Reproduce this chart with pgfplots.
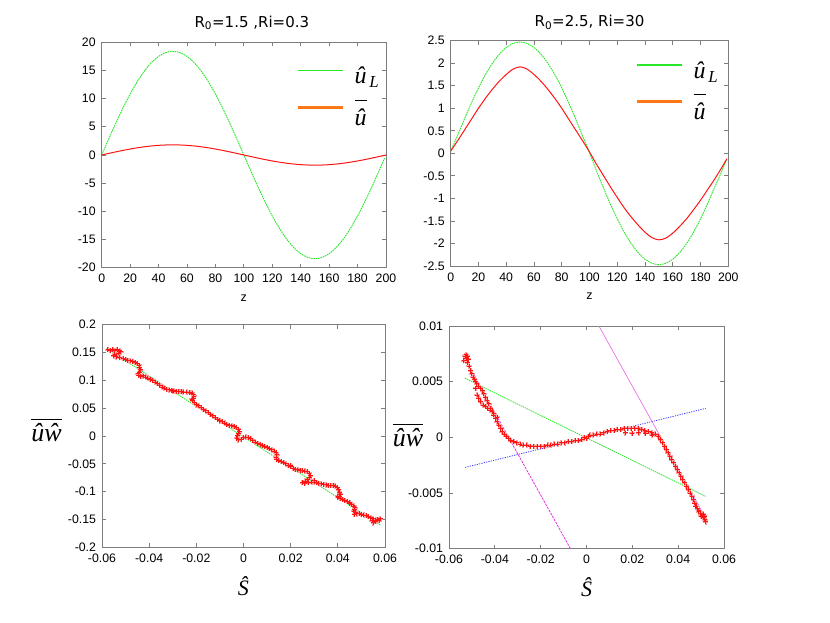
\documentclass[border=0pt]{standalone}
\usepackage{fix-cm}
\usepackage{fontspec}
\setmainfont{Liberation Sans}
\newfontfamily\titlefont{DejaVu Sans}
\newfontfamily\serif{Liberation Serif}
\usepackage{pgfplots}
\usepackage{pgfplotstable}
\pgfplotsset{compat=1.18}

\definecolor{gpgreen}{RGB}{40,230,40}
\definecolor{gpred}{RGB}{255,20,20}
\definecolor{gphalo}{RGB}{255,160,160}
\definecolor{gporange}{RGB}{255,120,20}
\definecolor{gpblue}{RGB}{60,60,255}
\definecolor{gpmag}{RGB}{235,110,235}
\definecolor{gpmagd}{RGB}{225,50,225}
\definecolor{framegray}{RGB}{125,125,125}

\pgfplotstableread{
x y
-0.0575 0.155
-0.0565 0.154
-0.0555 0.155
-0.0545 0.153
-0.0535 0.155
-0.0525 0.153
-0.0520 0.151
-0.0530 0.149
-0.0545 0.147
-0.0550 0.144
-0.0540 0.142
-0.0525 0.141
-0.0510 0.139
-0.0500 0.138
-0.0490 0.136
-0.0480 0.135
-0.0470 0.134
-0.0460 0.132
-0.0450 0.130
-0.0443 0.127
-0.0440 0.123
-0.0437 0.119
-0.0442 0.115
-0.0447 0.112
-0.0445 0.109
-0.0435 0.107
-0.0425 0.108
-0.0415 0.106
-0.0405 0.104
-0.0395 0.102
-0.0385 0.100
-0.0375 0.097
-0.0365 0.094
-0.0355 0.091
-0.0345 0.088
-0.0335 0.086
-0.0325 0.084
-0.0315 0.083
-0.0305 0.082
-0.0295 0.081
-0.0285 0.080
-0.0275 0.080
-0.0265 0.080
-0.0255 0.079
-0.0240 0.079
-0.0228 0.078
-0.0218 0.077
-0.0212 0.074
-0.0210 0.071
-0.0213 0.068
-0.0218 0.066
-0.0215 0.063
-0.0208 0.060
-0.0200 0.057
-0.0190 0.054
-0.0180 0.051
-0.0170 0.048
-0.0160 0.045
-0.0150 0.042
-0.0140 0.039
-0.0130 0.036
-0.0120 0.033
-0.0110 0.030
-0.0100 0.028
-0.0090 0.026
-0.0080 0.023
-0.0070 0.021
-0.0060 0.019
-0.0050 0.018
-0.0040 0.017
-0.0030 0.015
-0.0022 0.012
-0.0018 0.008
-0.0020 0.004
-0.0025 0.000
-0.0028 -0.004
-0.0022 -0.007
-0.0010 -0.006
0.0000 -0.003
0.0010 -0.002
0.0020 -0.003
0.0030 -0.005
0.0040 -0.008
0.0050 -0.011
0.0060 -0.013
0.0070 -0.015
0.0080 -0.017
0.0090 -0.019
0.0100 -0.021
0.0110 -0.023
0.0120 -0.025
0.0130 -0.027
0.0138 -0.030
0.0142 -0.034
0.0138 -0.038
0.0140 -0.042
0.0150 -0.044
0.0160 -0.046
0.0170 -0.048
0.0180 -0.050
0.0190 -0.053
0.0200 -0.055
0.0210 -0.058
0.0220 -0.060
0.0230 -0.061
0.0240 -0.062
0.0250 -0.062
0.0260 -0.063
0.0270 -0.064
0.0278 -0.067
0.0283 -0.071
0.0280 -0.075
0.0272 -0.078
0.0262 -0.081
0.0250 -0.084
0.0260 -0.085
0.0275 -0.084
0.0290 -0.083
0.0300 -0.083
0.0310 -0.084
0.0320 -0.085
0.0330 -0.086
0.0340 -0.087
0.0350 -0.088
0.0360 -0.089
0.0370 -0.089
0.0380 -0.089
0.0390 -0.090
0.0398 -0.093
0.0403 -0.097
0.0408 -0.101
0.0412 -0.105
0.0408 -0.108
0.0400 -0.110
0.0410 -0.112
0.0420 -0.114
0.0430 -0.116
0.0440 -0.118
0.0450 -0.120
0.0460 -0.123
0.0468 -0.126
0.0472 -0.129
0.0470 -0.132
0.0468 -0.135
0.0475 -0.138
0.0480 -0.140
0.0470 -0.141
0.0490 -0.139
0.0500 -0.141
0.0510 -0.142
0.0520 -0.143
0.0530 -0.145
0.0540 -0.147
0.0550 -0.149
0.0560 -0.151
0.0570 -0.150
0.0580 -0.149
0.0575 -0.152
0.0560 -0.154
0.0550 -0.156
0.0545 -0.152
-0.0300 0.081
-0.0200 0.056
-0.0100 0.027
0.0200 -0.053
0.0300 -0.080
0.0400 -0.108
0.0450 -0.121
}\scatterA

\pgfplotstableread{
x y
-0.0535 0.0069
-0.0530 0.0073
-0.0525 0.0074
-0.0520 0.0073
-0.0515 0.0070
-0.0525 0.0071
-0.0518 0.0067
-0.0512 0.0064
-0.0506 0.0060
-0.0500 0.0057
-0.0495 0.0054
-0.0490 0.0052
-0.0484 0.0050
-0.0478 0.0048
-0.0470 0.0046
-0.0462 0.0044
-0.0455 0.0042
-0.0448 0.0039
-0.0441 0.0036
-0.0434 0.0033
-0.0426 0.0030
-0.0419 0.0026
-0.0412 0.0023
-0.0405 0.0020
-0.0397 0.0017
-0.0390 0.0014
-0.0382 0.0011
-0.0375 0.0008
-0.0368 0.0005
-0.0360 0.0003
-0.0350 0.0001
-0.0340 -0.0001
-0.0330 -0.0003
-0.0318 -0.0004
-0.0305 -0.0005
-0.0290 -0.0006
-0.0275 -0.0007
-0.0260 -0.0007
-0.0245 -0.0008
-0.0230 -0.0008
-0.0215 -0.0008
-0.0200 -0.0008
-0.0185 -0.0008
-0.0170 -0.0007
-0.0155 -0.0007
-0.0140 -0.0006
-0.0125 -0.0006
-0.0110 -0.0005
-0.0095 -0.0005
-0.0080 -0.0004
-0.0065 -0.0004
-0.0050 -0.0003
-0.0035 -0.0003
-0.0020 -0.0002
-0.0010 0.0000
0.0000 -0.0001
0.0010 0.0001
0.0015 0.0002
0.0030 0.0002
0.0045 0.0003
0.0060 0.0003
0.0075 0.0004
0.0090 0.0005
0.0105 0.0006
0.0120 0.0006
0.0135 0.0007
0.0150 0.0007
0.0165 0.0008
0.0180 0.0008
0.0195 0.0008
0.0210 0.0008
0.0225 0.0008
0.0240 0.0007
0.0255 0.0006
0.0270 0.0005
0.0285 0.0004
0.0300 0.0003
0.0312 0.0001
0.0322 -0.0002
0.0332 -0.0005
0.0340 -0.0008
0.0348 -0.0011
0.0356 -0.0014
0.0364 -0.0017
0.0372 -0.0020
0.0380 -0.0023
0.0388 -0.0026
0.0396 -0.0029
0.0404 -0.0032
0.0412 -0.0035
0.0420 -0.0038
0.0428 -0.0041
0.0436 -0.0044
0.0444 -0.0047
0.0452 -0.0050
0.0460 -0.0053
0.0466 -0.0056
0.0472 -0.0059
0.0478 -0.0062
0.0484 -0.0064
0.0490 -0.0066
0.0498 -0.0068
0.0505 -0.0070
0.0512 -0.0072
0.0517 -0.0074
0.0520 -0.0076
0.0515 -0.0071
0.0510 -0.0069
-0.0484 0.0044
-0.0477 0.0038
-0.0470 0.0035
-0.0462 0.0032
-0.0451 0.0029
-0.0440 0.00275
-0.0430 0.0026
-0.0419 0.00245
-0.0404 0.0021
-0.0390 0.0018
0.0170 0.0004
0.0199 0.00036
0.0228 0.0004
0.0257 0.00036
0.0286 0.0002
0.0476 -0.0062
0.0490 -0.0067
0.0500 -0.0071
}\scatterB

\pgfplotsset{
  gp/.style={
    scale only axis,
    axis line style={framegray, line width=0.8pt},
    every tick/.style={framegray, line width=0.8pt},
    major tick length=4pt,
    tick align=inside,
    xtick pos=both, ytick pos=both,
    scaled ticks=false,
    /pgf/number format/.cd, fixed, precision=3, assume math mode=true, /pgfplots/.cd,
    tick label style={font=\fontsize{12.3}{12.3}\selectfont},
    xticklabel style={yshift=-3pt},
    yticklabel style={xshift=-2.5pt},
    legend cell align=left,
    legend image code/.code={\draw[#1] (0pt,6pt) -- (45pt,6pt);},
  },
  toplbl/.style={xlabel={z}, xlabel style={font=\fontsize{12.5}{12.5}\selectfont, at={(rel axis cs:0.5,0)}, anchor=north, inner sep=0pt, yshift=-27pt}},
  botlbl/.style={xlabel={\serif\itshape Ŝ}, xlabel style={font=\fontsize{22}{22}\selectfont, at={(rel axis cs:0.5,0)}, anchor=north, inner sep=0pt, yshift=-29pt},
                 ylabel={$\overline{\rule{0pt}{21pt}\hbox{\serif\itshape ûŵ}}$}, ylabel style={font=\fontsize{26}{26}\selectfont, rotate=-90, at={(rel axis cs:0,0.5)}, anchor=base east, inner sep=0pt}},
  halo/.style={only marks, mark=+, mark size=2.7pt, gphalo, mark options={line width=2pt}},
  pts/.style={only marks, mark=+, mark size=2.3pt, gpred, mark options={line width=1pt}},
}

\begin{document}
\begin{tikzpicture}
\useasboundingbox (0pt,0pt) rectangle (830pt,623pt);

% ---------------- top left ----------------
\begin{axis}[gp, toplbl, at={(101.7pt,355.3pt)}, anchor=south west,
  width=284.3pt, height=225.4pt,
  xmin=0, xmax=200, ymin=-20, ymax=20,
  xtick={0,20,40,60,80,100,120,140,160,180,200},
  ytick={-20,-15,-10,-5,0,5,10,15,20},
  title={\titlefont R\textsubscript{0}=1.5 ,Ri=0.3},
  title style={font=\fontsize{15}{15}\selectfont, at={(rel axis cs:0.5,1)}, anchor=base, inner sep=0pt, yshift=9pt, xshift=8pt},
  legend style={draw=none, fill=none, at={(rel axis cs:0.687,0.899)}, anchor=north west,
    font=\fontsize{24}{24}\selectfont, row sep=10.5pt, inner sep=0pt},
]
\addplot[gpgreen, line width=0.9pt, dash pattern=on 1.6pt off 0.8pt, smooth, forget plot] coordinates {
(0,0) (5,2.878) (10,5.686) (15,8.353) (20,10.815) (25,13.011) (30,14.886) (35,16.395) (40,17.500) (45,18.173) (50,18.400)
(55,18.173) (60,17.500) (65,16.395) (70,14.886) (75,13.011) (80,10.815) (85,8.353) (90,5.686) (95,2.878) (100,0)
(105,-2.878) (110,-5.686) (115,-8.353) (120,-10.815) (125,-13.011) (130,-14.886) (135,-16.395) (140,-17.500) (145,-18.173) (150,-18.400)
(155,-18.173) (160,-17.500) (165,-16.395) (170,-14.886) (175,-13.011) (180,-10.815) (185,-8.353) (190,-5.686) (195,-2.878) (199,-0.58)};
\addplot[gpred, line width=1pt, smooth, forget plot] coordinates {
(0,0) (5,0.282) (10,0.556) (15,0.817) (20,1.058) (25,1.273) (30,1.456) (35,1.604) (40,1.712) (45,1.778) (50,1.8)
(55,1.778) (60,1.712) (65,1.604) (70,1.456) (75,1.273) (80,1.058) (85,0.817) (90,0.556) (95,0.282) (100,0)
(105,-0.282) (110,-0.556) (115,-0.817) (120,-1.058) (125,-1.273) (130,-1.456) (135,-1.604) (140,-1.712) (145,-1.778) (150,-1.8)
(155,-1.778) (160,-1.712) (165,-1.604) (170,-1.456) (175,-1.273) (180,-1.058) (185,-0.817) (190,-0.556) (195,-0.282) (200,0)};
\addlegendimage{gpgreen, line width=1.7pt}
\addlegendentry{\hspace{8pt}\serif\itshape û\textsubscript{\,L}}
\addlegendimage{gporange, line width=2.4pt}
\addlegendentry{\hspace{8pt}$\overline{\rule{0pt}{24pt}\hbox{\serif\itshape û}}$}
\end{axis}

% ---------------- top right ----------------
\begin{axis}[gp, toplbl, at={(450.7pt,357pt)}, anchor=south west,
  width=277.6pt, height=225.3pt,
  xmin=0, xmax=200, ymin=-2.5, ymax=2.5,
  xtick={0,20,40,60,80,100,120,140,160,180,200},
  ytick={-2.5,-2,-1.5,-1,-0.5,0,0.5,1,1.5,2,2.5},
  title={\titlefont R\textsubscript{0}=2.5, Ri=30},
  title style={font=\fontsize{15}{15}\selectfont, at={(rel axis cs:0.5,1)}, anchor=base, inner sep=0pt, yshift=8pt},
  legend style={draw=none, fill=none, at={(rel axis cs:0.6675,0.9145)}, anchor=north west,
    font=\fontsize{24}{24}\selectfont, row sep=9.5pt, inner sep=0pt},
]
\addplot[gpgreen, line width=0.9pt, dash pattern=on 1.6pt off 0.8pt, smooth, forget plot] coordinates {
(0,0.05) (5,0.40) (10,0.77) (15,1.121) (20,1.452) (25,1.747) (30,1.998) (35,2.201) (40,2.349) (45,2.440) (50,2.47)
(55,2.440) (60,2.349) (65,2.201) (70,1.998) (75,1.747) (80,1.452) (85,1.121) (90,0.763) (95,0.386) (100,0.02)
(105,-0.386) (110,-0.763) (115,-1.121) (120,-1.452) (125,-1.747) (130,-1.998) (135,-2.201) (140,-2.349) (145,-2.440) (150,-2.47)
(155,-2.440) (160,-2.349) (165,-2.201) (170,-1.998) (175,-1.747) (180,-1.452) (185,-1.121) (190,-0.763) (195,-0.42) (199,-0.12)};
\addplot[gpred, line width=1pt, smooth, forget plot] coordinates {
(0,0.05) (5,0.28) (10,0.52) (15,0.76) (20,1.00) (25,1.22) (30,1.42) (35,1.60) (40,1.75) (45,1.87) (50,1.92)
(55,1.87) (60,1.75) (65,1.60) (70,1.42) (75,1.22) (80,1.00) (85,0.76) (90,0.52) (95,0.28) (100,0.03)
(105,-0.24) (110,-0.49) (115,-0.74) (120,-0.98) (125,-1.21) (130,-1.41) (135,-1.59) (140,-1.75) (145,-1.87) (150,-1.92)
(155,-1.88) (160,-1.77) (165,-1.62) (170,-1.45) (175,-1.25) (180,-1.04) (185,-0.81) (190,-0.58) (195,-0.33) (199,-0.12)};
\addlegendimage{gpgreen, line width=1.7pt}
\addlegendentry{\hspace{8pt}\serif\itshape û\textsubscript{\,L}}
\addlegendimage{gporange, line width=2.4pt}
\addlegendentry{\hspace{8pt}$\overline{\rule{0pt}{24pt}\hbox{\serif\itshape û}}$}
\end{axis}

% ---------------- bottom left ----------------
\begin{axis}[gp, botlbl, at={(102pt,75.7pt)}, anchor=south west,
  width=283pt, height=222.6pt,
  xmin=-0.06, xmax=0.06, ymin=-0.2, ymax=0.2,
  xtick={-0.06,-0.04,-0.02,0,0.02,0.04,0.06},
  ytick={-0.2,-0.15,-0.1,-0.05,0,0.05,0.1,0.15,0.2},
  ylabel style={xshift=-40pt, yshift=-6pt},
]
\addplot[gpgreen, line width=0.8pt, dash pattern=on 1.5pt off 0.8pt] coordinates {(-0.058,0.157) (0.058,-0.160)};
\addplot[halo] table[x=x, y=y] {\scatterA};
\addplot[pts] table[x=x, y=y] {\scatterA};
\end{axis}

% ---------------- bottom right ----------------
\begin{axis}[gp, botlbl, at={(449pt,74.3pt)}, anchor=south west,
  width=275pt, height=222.7pt,
  xmin=-0.06, xmax=0.06, ymin=-0.01, ymax=0.01,
  xtick={-0.06,-0.04,-0.02,0,0.02,0.04,0.06},
  ytick={-0.01,-0.005,0,0.005,0.01},
  ylabel style={xshift=-25.7pt, yshift=-9pt},
]
\addplot[gpgreen, line width=0.8pt, dash pattern=on 1.5pt off 0.8pt] coordinates {(-0.053,0.0053) (0.052,-0.0053)};
\addplot[gpblue, line width=0.8pt, dash pattern=on 1.2pt off 1.2pt] coordinates {(-0.053,-0.0027) (0.052,0.0026)};
\addplot[gpmag, line width=0.7pt] coordinates {(0.0054,0.01) (0.052,-0.00725)};
\addplot[gpmagd, line width=0.8pt, dash pattern=on 2.5pt off 1pt] coordinates {(-0.0528,0.00696) (-0.007,-0.01)};
\addplot[halo] table[x=x, y=y] {\scatterB};
\addplot[pts] table[x=x, y=y] {\scatterB};
\end{axis}
\end{tikzpicture}
\end{document}
